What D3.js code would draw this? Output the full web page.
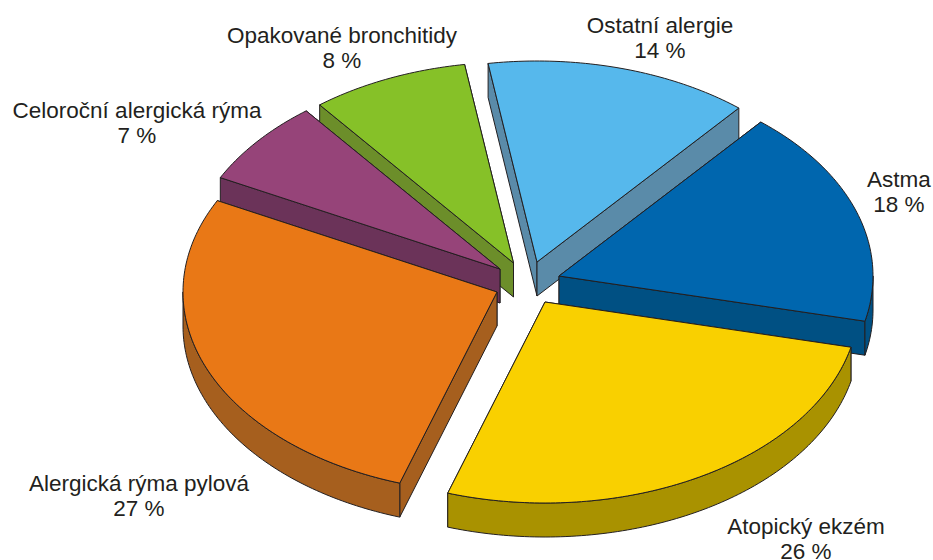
<!DOCTYPE html>
<html><head><meta charset="utf-8">
<style>html,body{margin:0;padding:0;background:#fff;overflow:hidden}svg{display:block}</style>
<script src="https://cdn.jsdelivr.net/npm/d3@7/dist/d3.min.js"></script>
</head><body>
<svg id="chart" width="933" height="560"></svg>
<script>
// Categories and printed percentages
const categories = ["Astma","Atopický ekzém","Alergická rýma pylová","Celoroční alergická rýma","Opakované bronchitidy","Ostatní alergie"];
const printedPercent = [18,26,27,7,8,14];
const sliceSizes = [17.5,26.4,27.5,6.9,8.1,13.6];

// Styling and layout
const topColors  = ["#0066ae","#f9d000","#e97816","#964479","#86c128","#56b8ec"];
const wallColors = ["#005083","#a99200","#a65f1e","#6b3359","#6c8e2a","#5a8ba9"];
const explodeX = [559,545,497,500,513.5,537];
const explodeY = [276,302,292,269,263,262];
const labelX = [899,806,139,137,342,660];
const labelY = [187,534,491,118,43,33];
const drawOrder = [5,4,3,0,2,1];
const rx = 314, ry = 201, depth = 34, lineGap = 25;
const startDeg = 40;

const svg = d3.select("#chart");
const pie = d3.pie().sort(null)
  .startAngle(startDeg*Math.PI/180).endAngle((startDeg+360)*Math.PI/180);
const arcs = pie(sliceSizes);
const line = d3.line();

function rim(i,a0,a1,dy){
  const n = Math.max(2,Math.ceil((a1-a0)*60));
  return d3.range(n+1).map(k=>{
    const t = a0+(a1-a0)*k/n;
    return [explodeX[i]+rx*Math.sin(t), explodeY[i]-ry*Math.cos(t)+dy];
  });
}
const stroke = "#231f20", sw = 1;
drawOrder.forEach(i=>{
  const a = arcs[i], ax = explodeX[i], ay = explodeY[i];
  const g = svg.append("g");
  const s = rim(i,a.startAngle,a.startAngle,0)[0], e = rim(i,a.endAngle,a.endAngle,0)[0];
  const wall = pts => g.append("path").attr("d",line(pts)+"Z")
    .attr("fill",wallColors[i]).attr("stroke",stroke).attr("stroke-width",sw).attr("stroke-linejoin","round");
  // cut faces: the one whose outer end sits lower on the page is in front
  const [back,front] = s[1]>e[1] ? [e,s] : [s,e];
  wall([[ax,ay],back,[back[0],back[1]+depth],[ax,ay+depth]]);
  wall([[ax,ay],front,[front[0],front[1]+depth],[ax,ay+depth]]);
  // curved outer wall: only the part that faces the viewer
  const lo = Math.PI/2, hi = 3*Math.PI/2;
  const w0 = Math.max(a.startAngle,lo), w1 = Math.min(a.endAngle,hi);
  if(w1>w0) wall(rim(i,w0,w1,0).concat(rim(i,w0,w1,depth).reverse()));
  // top face
  g.append("path").attr("d",line([[ax,ay]].concat(rim(i,a.startAngle,a.endAngle,0)))+"Z")
    .attr("fill",topColors[i]).attr("stroke",stroke).attr("stroke-width",sw).attr("stroke-linejoin","round");
});

categories.forEach((c,i)=>{
  const t = svg.append("text").attr("text-anchor","middle")
    .attr("font-family","'Liberation Sans',Arial,sans-serif").attr("font-size",22.5).attr("fill","#231f20");
  t.append("tspan").attr("x",labelX[i]).attr("y",labelY[i]).text(c);
  t.append("tspan").attr("x",labelX[i]).attr("y",labelY[i]+lineGap).text(printedPercent[i]+" %");
});
</script>
</body></html>
